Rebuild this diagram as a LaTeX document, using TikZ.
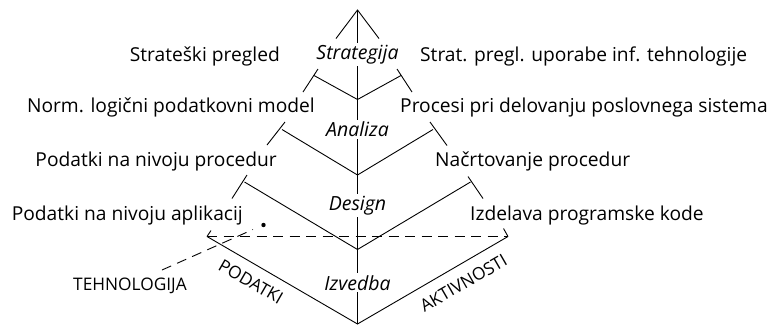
\documentclass[tikz,border=0pt]{standalone}
\usepackage{fontspec}
\setmainfont{Open Sans}
\begin{document}
\begin{tikzpicture}[x=1pt,y=-1pt,
  ln/.style={line width=0.9pt},
  lbl/.style={font=\fontsize{19.2}{22}\selectfont, inner sep=0pt},
  phase/.style={font=\fontsize{19.5}{22}\selectfont\itshape, fill=white, inner sep=2pt},
  capslbl/.style={font=\fontsize{17.3}{20}\selectfont, inner sep=0pt},
  dsh/.style={line width=0.9pt, dash pattern=on 10pt off 6.5pt}]
\useasboundingbox (0,0) rectangle (772,325);
% key points
\coordinate (A0) at (357.5,10);
\coordinate (T0L) at (336,38.5);
\coordinate (T0R) at (379,38.5);
\coordinate (V1) at (357.5,99.5);
\coordinate (L1) at (314,75.5);
\coordinate (L1a) at (303,92);
\coordinate (L1b) at (318,69);
\coordinate (R1) at (401,75.5);
\coordinate (R1a) at (397,69);
\coordinate (R1b) at (412,92);
\coordinate (V2) at (357.5,175);
\coordinate (L2) at (282,129.5);
\coordinate (L2a) at (267,145);
\coordinate (L2b) at (285,122);
\coordinate (R2) at (433,129.5);
\coordinate (R2a) at (430,122);
\coordinate (R2b) at (447,145.5);
\coordinate (V3) at (357.5,249.5);
\coordinate (L3) at (244.5,182);
\coordinate (L3a) at (232,198.5);
\coordinate (L3b) at (247,175);
\coordinate (R3) at (470.5,182);
\coordinate (R3a) at (468,176.5);
\coordinate (R3b) at (483,198.5);
\coordinate (V4) at (357.5,324);
\coordinate (L4) at (207,236.5);
\coordinate (L4b) at (211,230.5);
\coordinate (R4) at (508,236.5);
\coordinate (R4b) at (503.5,228.5);
\coordinate (T1) at (162,270);
\coordinate (T2) at (253,229.5);
% technology dashed lines
\draw[dsh] (L4) -- (R4);
\draw[dsh] (T1) -- (T2);
\fill (263.5,225) circle (2.2pt);
% axis
\draw[ln] (A0) -- (V4);
% top tent
\draw[ln] (T0L) -- (A0) -- (T0R);
% V shapes
\draw[ln] (L1) -- (V1) -- (R1);
\draw[ln] (L1a) -- (L1b);
\draw[ln] (R1a) -- (R1b);
\draw[ln] (L2) -- (V2) -- (R2);
\draw[ln] (L2a) -- (L2b);
\draw[ln] (R2a) -- (R2b);
\draw[ln] (L3) -- (V3) -- (R3);
\draw[ln] (L3a) -- (L3b);
\draw[ln] (R3a) -- (R3b);
\draw[ln] (L4) -- (V4) -- (R4);
\draw[ln] (L4) -- (L4b);
\draw[ln] (R4) -- (R4b);
% phase labels
\node[phase, anchor=base] (strat) at (357.5,59.5) {Strategija};
\node[phase, anchor=base] (anal) at (357.5,136.5) {Analiza};
\node[phase, anchor=base] (des) at (357.5,210) {Design};
\node[phase, anchor=base] (izv) at (357.5,290) {Izvedba};
% side labels
\node[lbl, anchor=base east] (sp) at (280,61) {Strateški pregled};
\node[lbl, anchor=base west] (spu) at (420,61) {Strat. pregl. uporabe inf. tehnologije};
\node[lbl, anchor=base east] (nlp) at (315,112) {Norm. logični podatkovni model};
\node[lbl, anchor=base west] (pdp) at (400,112) {Procesi pri delovanju poslovnega sistema};
\node[lbl, anchor=base east] (pnp) at (277,166.5) {Podatki na nivoju procedur};
\node[lbl, anchor=base west] (np) at (435,166.5) {Načrtovanje procedur};
\node[lbl, anchor=base east] (pna) at (243,220) {Podatki na nivoju aplikacij};
\node[lbl, anchor=base west] (ipk) at (470,220) {Izdelava programske kode};
\node[capslbl] (teh) at (130,286) {TEHNOLOGIJA};
\node[capslbl, rotate=-30] (pod) at (251,281.5) {PODATKI};
\node[capslbl, rotate=30] (akt) at (463.5,283) {AKTIVNOSTI};
\end{tikzpicture}
\end{document}
